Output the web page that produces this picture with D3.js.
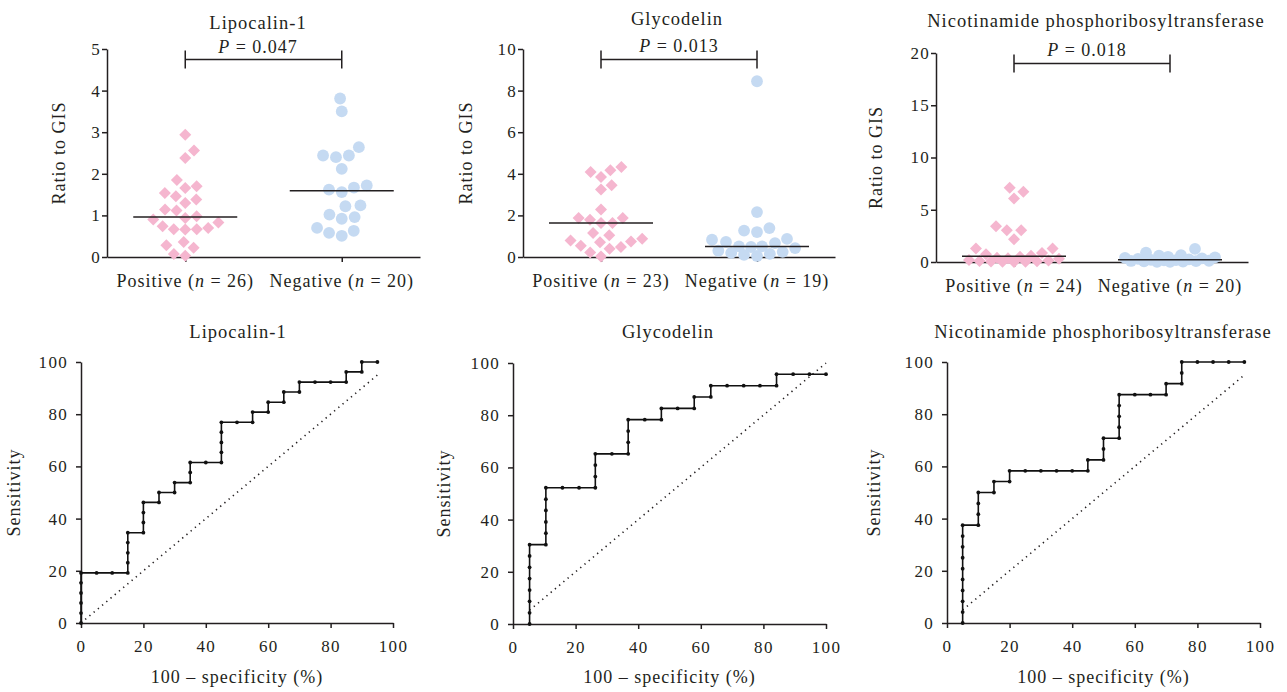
<!DOCTYPE html>
<html>
<head>
<meta charset="UTF-8">
<title>Ratio to GIS e curve ROC</title>
<script src="https://d3js.org/d3.v7.min.js"></script>
<style>
  body { margin: 0; background: #fff; }
  svg text { font-family: "Liberation Serif", "Times New Roman", serif; fill: #231f20; }
  .tick text { font-size: 17px; letter-spacing: 1.3px; }
  .lbl { font-size: 18px; letter-spacing: 1px; }
  .ttl { font-size: 18.5px; letter-spacing: 1px; }
  .domain, .tick line { stroke: #231f20; stroke-width: 1.5px; }
</style>
</head>
<body>
<div id="chart"></div>
<script>
// categorie e titoli
var groups = ["Positive", "Negative"];
var proteins = ["Lipocalin-1", "Glycodelin", "Nicotinamide phosphoribosyltransferase"];
var pValues = ["0.047", "0.013", "0.018"];

// valori Ratio to GIS
var lipoPos = [2.94, 2.56, 2.38, 1.85, 1.66, 1.70, 1.46, 1.54, 1.30, 1.38, 1.12, 1.14, 0.94, 0.98, 0.83, 0.90, 0.70, 0.67, 0.66, 0.67, 0.74, 0.36, 0.22, 0.28, 0.03, 0.07];
var lipoNeg = [3.81, 3.50, 2.64, 2.44, 2.40, 2.44, 2.12, 1.67, 1.56, 1.62, 1.72, 1.22, 1.24, 0.96, 0.92, 1.02, 0.63, 0.51, 0.58, 0.70];
var glycoPos = [4.33, 4.09, 4.17, 3.85, 3.45, 3.24, 2.28, 1.88, 1.88, 1.63, 1.63, 1.79, 1.04, 1.15, 0.88, 0.75, 0.79, 0.71, 0.54, 0.40, 0.48, 0.22, 0.03];
var glycoNeg = [8.45, 2.16, 1.27, 1.20, 1.39, 0.83, 0.87, 0.67, 0.72, 0.51, 0.43, 0.51, 0.48, 0.30, 0.25, 0.20, 0.15, 0.10, 0.05];
var namptPos = [7.10, 6.72, 6.08, 3.42, 3.04, 3.04, 2.18, 1.28, 1.28, 0.85, 0.75, 0.60, 0.50, 0.40, 0.35, 0.30, 0.20, 0.15, 0.10, 0.08, 0.05, 0.03, 0.02, 0.01];
var namptNeg = [1.25, 0.90, 0.65, 0.60, 0.50, 0.45, 0.40, 0.35, 0.30, 0.25, 0.20, 0.18, 0.15, 0.12, 0.10, 0.08, 0.06, 0.04, 0.02, 0.01];

// tick dell'asse y
var lipoTicks = [0, 1, 2, 3, 4, 5];
var glycoTicks = [0, 2, 4, 6, 8, 10];
var namptTicks = [0, 5, 10, 15, 20];
var rocTicks = [0, 20, 40, 60, 80, 100];

// curve ROC: 100 - specificita' (x) e sensibilita' (y), in %
var rocLipoX = [0, 0, 0, 0, 0, 0, 5, 10, 15, 15, 15, 15, 15, 20, 20, 20, 20, 25, 25, 30, 30, 35, 35, 35, 40, 45, 45, 45, 45, 45, 50, 55, 55, 60, 60, 65, 65, 70, 70, 75, 80, 85, 85, 90, 90, 95];
var rocLipoY = [0, 3.8, 7.7, 11.5, 15.4, 19.2, 19.2, 19.2, 19.2, 23.1, 26.9, 30.8, 34.6, 34.6, 38.5, 42.3, 46.2, 46.2, 50, 50, 53.8, 53.8, 57.7, 61.5, 61.5, 61.5, 65.4, 69.2, 73.1, 76.9, 76.9, 76.9, 80.8, 80.8, 84.6, 84.6, 88.5, 88.5, 92.3, 92.3, 92.3, 92.3, 96.2, 96.2, 100, 100];
var rocGlycoX = [5.3, 5.3, 5.3, 5.3, 5.3, 5.3, 5.3, 5.3, 10.5, 10.5, 10.5, 10.5, 10.5, 10.5, 15.8, 21.1, 26.3, 26.3, 26.3, 26.3, 31.6, 36.8, 36.8, 36.8, 36.8, 42.1, 47.4, 47.4, 52.6, 57.9, 57.9, 63.2, 63.2, 68.4, 73.7, 78.9, 84.2, 84.2, 89.5, 94.7, 100];
var rocGlycoY = [0, 4.3, 8.7, 13, 17.4, 21.7, 26.1, 30.4, 30.4, 34.8, 39.1, 43.5, 47.8, 52.2, 52.2, 52.2, 52.2, 56.5, 60.9, 65.2, 65.2, 65.2, 69.6, 73.9, 78.3, 78.3, 78.3, 82.6, 82.6, 82.6, 87, 87, 91.3, 91.3, 91.3, 91.3, 91.3, 95.7, 95.7, 95.7, 95.7];
var rocNamptX = [5, 5, 5, 5, 5, 5, 5, 5, 5, 5, 10, 10, 10, 10, 15, 15, 20, 20, 25, 30, 35, 40, 45, 45, 50, 50, 50, 55, 55, 55, 55, 55, 60, 65, 70, 70, 75, 75, 75, 80, 85, 90, 95];
var rocNamptY = [0, 4.2, 8.3, 12.5, 16.7, 20.8, 25, 29.2, 33.3, 37.5, 37.5, 41.7, 45.8, 50, 50, 54.2, 54.2, 58.3, 58.3, 58.3, 58.3, 58.3, 58.3, 62.5, 62.5, 66.7, 70.8, 70.8, 75, 79.2, 83.3, 87.5, 87.5, 87.5, 87.5, 91.7, 91.7, 95.8, 100, 100, 100, 100, 100];

var pink = "#f5b6cf", blue = "#c5daf2";

var svg = d3.select("#chart").append("svg")
    .attr("width", 1287).attr("height", 692);

// disposizione dei pannelli (pixel)
var scatterPanels = [
    { pos: lipoPos, neg: lipoNeg, ticks: lipoTicks, left: 107, right: 420, top: 49, bottom: 257,
      titleX: 258, titleY: 29, pX: 258, pY: 53, yLabX: 65 },
    { pos: glycoPos, neg: glycoNeg, ticks: glycoTicks, left: 523, right: 835, top: 49, bottom: 257,
      titleX: 677, titleY: 25, pX: 679, pY: 52, yLabX: 472 },
    { pos: namptPos, neg: namptNeg, ticks: namptTicks, left: 936, right: 1248, top: 53, bottom: 262,
      titleX: 1096, titleY: 27, pX: 1087, pY: 56, yLabX: 882 }
];
var rocPanels = [
    { xs: rocLipoX, ys: rocLipoY, left: 81, right: 393, top: 362, bottom: 623, titleX: 238, yLabX: 20 },
    { xs: rocGlycoX, ys: rocGlycoY, left: 513, right: 826, top: 363, bottom: 624, titleX: 668, yLabX: 450 },
    { xs: rocNamptX, ys: rocNamptY, left: 947, right: 1260, top: 362, bottom: 623, titleX: 1103, yLabX: 880 }
];

// beeswarm: valori bassi al centro, larghezza massima fissa,
// se non c'e' posto il punto si sovrappone dove c'e' piu' spazio
function swarm(values, y, d, maxHalf) {
    var order = values.map(function (v, i) { return i; })
        .sort(function (a, b) { return values[a] - values[b]; });
    var res = new Array(values.length), placed = [], lastSide = 1;
    function dist2(c, py) {
        return d3.min(placed, function (p) { return (p.x - c) * (p.x - c) + (p.y - py) * (p.y - py); });
    }
    order.forEach(function (i) {
        var py = y(values[i]);
        var cands = [0];
        placed.forEach(function (p) {
            var dy = Math.abs(p.y - py);
            if (dy < d) {
                var dx = Math.sqrt(d * d - dy * dy);
                cands.push(p.x + dx + 0.01, p.x - dx - 0.01);
            }
        });
        cands = cands.filter(function (c) { return Math.abs(c) <= maxHalf; });
        cands.sort(function (a, b) {
            return (Math.abs(a) - Math.abs(b)) || (lastSide > 0 ? a - b : b - a);
        });
        var x = cands.find(function (c) { return !placed.length || dist2(c, py) >= d * d - 0.1; });
        if (x === undefined) {
            var best = -1;
            for (var c = -maxHalf; c <= maxHalf; c += 1) {
                var m = dist2(c, py);
                if (m > best + 0.01 || (Math.abs(m - best) <= 0.01 && Math.abs(c) < Math.abs(x))) { best = m; x = c; }
            }
        }
        if (x !== 0) lastSide = Math.sign(x);
        placed.push({ x: x, y: py });
        res[i] = x;
    });
    return res;
}

var diamond = "M0,-6L6,0L0,6L-6,0Z";

scatterPanels.forEach(function (p, k) {
    var g = svg.append("g");
    var x = d3.scalePoint().domain(groups).range([p.left, p.right]).padding(0.5);
    var y = d3.scaleLinear().domain([0, d3.max(p.ticks)]).range([p.bottom, p.top]);

    g.append("g").attr("transform", "translate(0," + p.bottom + ")")
        .call(d3.axisBottom(x).tickSize(5).tickSizeOuter(0).tickFormat(""));
    g.append("g").attr("transform", "translate(" + p.left + ",0)")
        .call(d3.axisLeft(y).tickValues(p.ticks).tickFormat(d3.format("d"))
            .tickSize(5).tickSizeOuter(0).tickPadding(1));

    // punti
    var offPos = swarm(p.pos, y, 11.5, 45);
    var offNeg = swarm(p.neg, y, 13, 45);
    g.selectAll(".dpos").data(p.pos).enter().append("path")
        .attr("d", diamond).attr("fill", pink)
        .attr("transform", function (d, i) { return "translate(" + (x("Positive") + offPos[i]) + "," + y(d) + ")"; });
    g.selectAll(".dneg").data(p.neg).enter().append("circle")
        .attr("r", 5.9).attr("fill", blue)
        .attr("cx", function (d, i) { return x("Negative") + offNeg[i]; })
        .attr("cy", function (d) { return y(d); });

    // mediane
    [[p.pos, "Positive"], [p.neg, "Negative"]].forEach(function (s) {
        var m = d3.median(s[0]);
        g.append("line").attr("x1", x(s[1]) - 52).attr("x2", x(s[1]) + 52)
            .attr("y1", y(m)).attr("y2", y(m))
            .attr("stroke", "#231f20").attr("stroke-width", 1.5);
    });

    // parentesi con P
    var by = p.top + 10.5;
    g.append("path")
        .attr("d", "M" + x("Positive") + "," + (by - 9) + "V" + (by + 9) + "M" + x("Positive") + "," + by +
            "H" + x("Negative") + "M" + x("Negative") + "," + (by - 9) + "V" + (by + 9))
        .attr("fill", "none").attr("stroke", "#231f20").attr("stroke-width", 1.5);
    var pt = g.append("text").attr("class", "lbl").attr("x", p.pX).attr("y", p.pY).attr("text-anchor", "middle");
    pt.append("tspan").style("font-style", "italic").text("P");
    pt.append("tspan").text(" = " + pValues[k]);

    g.append("text").attr("class", "ttl").attr("x", p.titleX).attr("y", p.titleY)
        .attr("text-anchor", "middle").text(proteins[k]);

    // etichette delle categorie
    [[p.pos, "Positive"], [p.neg, "Negative"]].forEach(function (s) {
        var t = g.append("text").attr("class", "lbl").attr("x", x(s[1]))
            .attr("y", p.bottom + 30).attr("text-anchor", "middle");
        t.append("tspan").text(s[1] + " (");
        t.append("tspan").style("font-style", "italic").text("n");
        t.append("tspan").text(" = " + s[0].length + ")");
    });

    g.append("text").attr("class", "lbl")
        .attr("transform", "translate(" + p.yLabX + "," + ((p.top + p.bottom) / 2) + ") rotate(-90)")
        .attr("text-anchor", "middle").text("Ratio to GIS");
});

rocPanels.forEach(function (p, k) {
    var g = svg.append("g");
    var x = d3.scaleLinear().domain([0, 100]).range([p.left, p.right]);
    var y = d3.scaleLinear().domain([0, 100]).range([p.bottom, p.top]);

    g.append("g").attr("transform", "translate(0," + p.bottom + ")")
        .call(d3.axisBottom(x).tickValues(rocTicks).tickSize(5).tickSizeOuter(0).tickPadding(12));
    g.append("g").attr("transform", "translate(" + p.left + ",0)")
        .call(d3.axisLeft(y).tickValues(rocTicks).tickSize(5).tickSizeOuter(0).tickPadding(8));

    var pts = p.xs.map(function (v, i) { return [v, p.ys[i]]; });
    var x0 = d3.min(p.xs), x1 = d3.max(p.xs);

    // diagonale di riferimento
    g.append("line")
        .attr("x1", x(x0)).attr("y1", y(x0)).attr("x2", x(x1)).attr("y2", y(x1))
        .attr("stroke", "#231f20").attr("stroke-width", 1.6)
        .attr("stroke-dasharray", "1.3,4.2");

    var line = d3.line().x(function (d) { return x(d[0]); }).y(function (d) { return y(d[1]); });
    g.append("path").datum(pts).attr("d", line)
        .attr("fill", "none").attr("stroke", "#111").attr("stroke-width", 1.6);
    g.selectAll(".pt").data(pts).enter().append("circle")
        .attr("cx", function (d) { return x(d[0]); })
        .attr("cy", function (d) { return y(d[1]); })
        .attr("r", 1.9).attr("fill", "#111");

    g.append("text").attr("class", "ttl").attr("x", p.titleX).attr("y", 338)
        .attr("text-anchor", "middle").text(proteins[k]);
    g.append("text").attr("class", "lbl").attr("x", (p.left + p.right) / 2).attr("y", 683)
        .attr("text-anchor", "middle").text("100 \u2013 specificity (%)");
    g.append("text").attr("class", "lbl")
        .attr("transform", "translate(" + p.yLabX + "," + ((p.top + p.bottom) / 2) + ") rotate(-90)")
        .attr("text-anchor", "middle").text("Sensitivity");
});
</script>
</body>
</html>
